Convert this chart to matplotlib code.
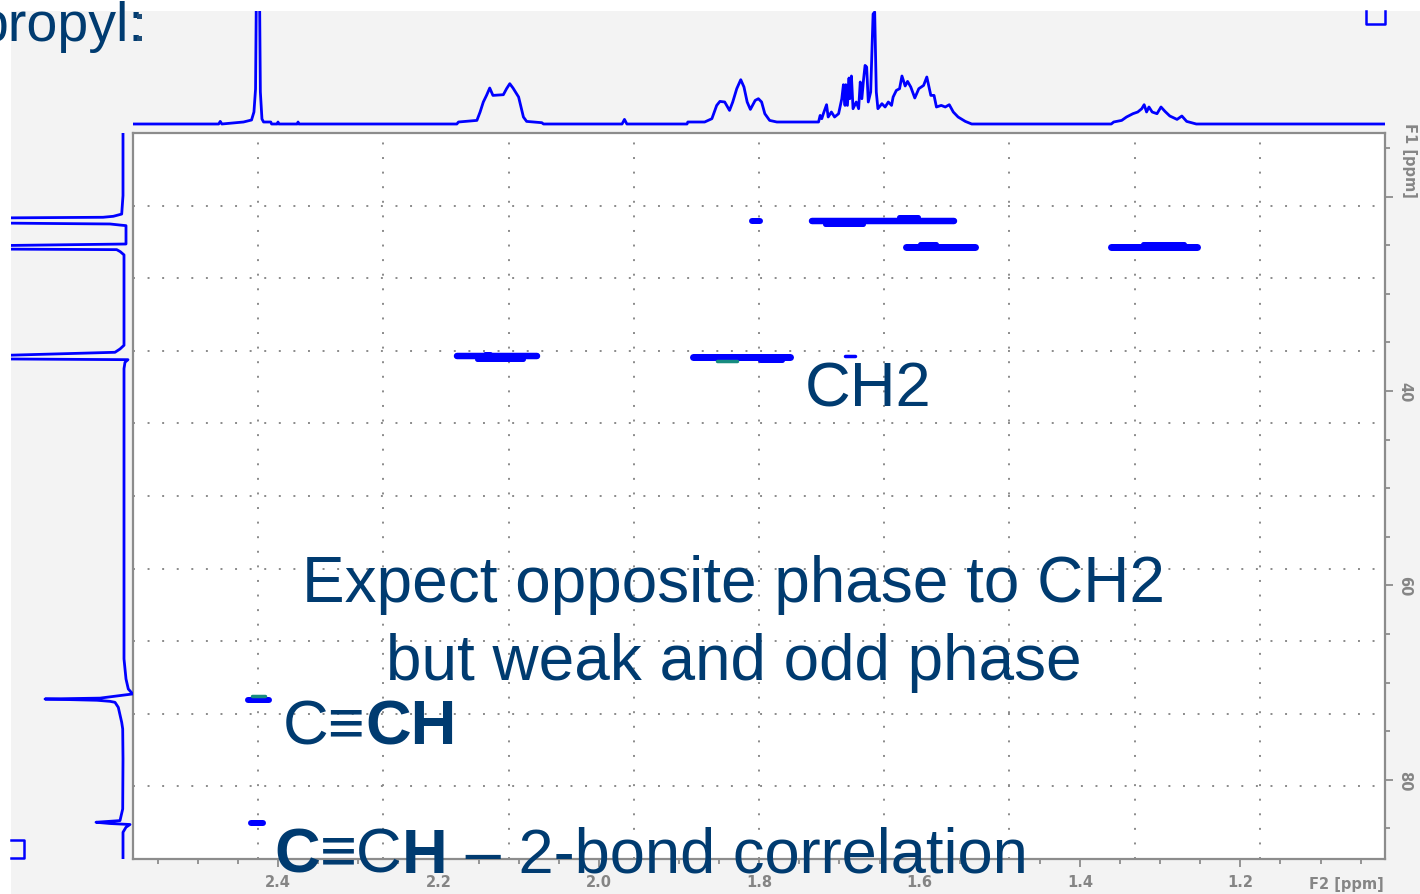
import matplotlib
matplotlib.use("Agg")
import matplotlib.pyplot as plt
import matplotlib.transforms as mtransforms
from matplotlib.lines import Line2D
from matplotlib.patches import Rectangle
from matplotlib.ticker import FixedLocator, MultipleLocator

# 1H projection (F2, top): chemical shift [ppm] and relative intensity
h_ppm = [2.580, 2.474, 2.472, 2.470, 2.443, 2.433, 2.430, 2.428, 2.427, 2.423,
         2.422, 2.420, 2.418, 2.409, 2.408, 2.401, 2.400, 2.399, 2.376, 2.375,
         2.374, 2.177, 2.175, 2.152, 2.148, 2.144, 2.140, 2.136, 2.132, 2.119,
         2.115, 2.111, 2.107, 2.100, 2.094, 2.090, 2.071, 2.069, 1.971, 1.968,
         1.965, 1.890, 1.889, 1.868, 1.859, 1.853, 1.849, 1.843, 1.837, 1.833,
         1.828, 1.823, 1.819, 1.815, 1.811, 1.805, 1.801, 1.797, 1.793, 1.787,
         1.778, 1.726, 1.724, 1.722, 1.720, 1.716, 1.714, 1.710, 1.706, 1.701,
         1.697, 1.695, 1.693, 1.692, 1.690, 1.688, 1.687, 1.685, 1.683, 1.679,
         1.676, 1.674, 1.672, 1.670, 1.668, 1.666, 1.664, 1.661, 1.658, 1.656,
         1.654, 1.652, 1.647, 1.643, 1.639, 1.635, 1.633, 1.629, 1.625, 1.622,
         1.618, 1.615, 1.611, 1.606, 1.601, 1.595, 1.591, 1.586, 1.582, 1.579,
         1.573, 1.568, 1.563, 1.558, 1.552, 1.543, 1.535, 1.361, 1.358, 1.348,
         1.342, 1.334, 1.328, 1.323, 1.320, 1.317, 1.314, 1.310, 1.304, 1.299,
         1.294, 1.288, 1.279, 1.273, 1.267, 1.255, 1.020]
h_int = [0, 0, 2.6, 0, 2, 4, 12, 35, 130, 130,
         32, 5, 2, 2, 0, 0, 2, 0, 0, 2,
         0, 0, 2, 3.6, 12, 22, 28.6, 36, 28.6, 29.3,
         35.3, 40.3, 36, 27, 7, 2.6, 1.3, 0, 0, 4.6,
         0, 0, 2, 2, 5.3, 18.6, 22.6, 22, 13.6, 22,
         35.3, 44.3, 37, 22, 14.6, 23.6, 25.3, 22, 10.3, 3.6,
         2, 2, 8.6, 5.3, 10.3, 19.3, 7, 12, 7, 10.3,
         25.3, 39.3, 18.6, 39.3, 18.6, 46, 25.3, 48, 15.3, 22,
         15.3, 42, 25.3, 43.6, 58.6, 57, 22, 32, 110, 112,
         32, 15.3, 20.3, 17, 22, 18.6, 27, 33.6, 35.3, 48,
         38, 42.6, 37, 26, 35.3, 38.6, 47, 28.6, 28.6, 17,
         18.6, 17, 19.3, 12, 7, 2.6, 0, 0, 2, 3.6,
         7, 10.3, 12, 15.3, 19.3, 12, 17, 12, 10.3, 17,
         12.6, 8, 4.6, 8, 2.6, 0, 0]

# 13C projection (F1, left): chemical shift [ppm] and relative intensity
c_ppm = [13.5, 19.9, 21.8, 22.03, 22.13, 22.20, 22.72, 22.82, 22.93, 22.99,
         24.88, 25.05, 25.40, 25.46, 25.67, 26.0, 35.3, 35.68, 36.02, 36.30,
         36.37, 36.70, 36.78, 37.05, 37.7, 67.57, 69.63, 70.66, 71.17, 71.60,
         71.69, 71.82, 71.93, 72.03, 72.55, 74.09, 74.77, 77.86, 83.0, 84.2,
         84.37, 84.50, 84.60, 84.88, 85.4, 88.2]
c_int = [0, 0, 1.3, 9.7, 20, 130, 130, 13, 3, -3,
         -3, 130, 130, 6.3, 2.7, -1, -1, 3, 8, 106,
         130, 130, -5, -2, -1, -1, -3, -5.3, -9.7, 23,
         78, 26, 13, 8, 4.7, 1.3, 0.3, 0, 0.3, 3,
         27, 13, -7, -3, 0, 0]

# 2D cross peaks: F2 start, F2 end, F1 [ppm], drawn thickness [px]
pk_f2_a = [1.809, 1.734, 1.626, 1.718, 1.617, 1.600, 1.361, 1.322,
           2.177, 2.152, 2.142, 1.882, 1.799, 1.693, 2.437, 2.434]
pk_f2_b = [1.799, 1.557, 1.602, 1.671, 1.531, 1.579, 1.254, 1.270,
           2.077, 2.095, 2.136, 1.762, 1.772, 1.681, 2.411, 2.419]
pk_f1 = [22.5, 22.5, 22.15, 22.85, 25.2, 24.85, 25.2, 24.85,
         36.45, 36.75, 36.15, 36.5, 36.85, 36.45, 71.8, 84.4]
pk_px = [6, 6.5, 5, 5, 7, 5, 7, 5, 6.5, 5, 5, 7, 5, 3.5, 6, 6]

# weaker, opposite-level contours
neg_f2_a = [1.853, 2.433]
neg_f2_b = [1.828, 2.416]
neg_f1 = [36.9, 71.35]

f2_ticks = [2.4, 2.2, 2.0, 1.8, 1.6, 1.4, 1.2]
f2_labels = ["2.4", "2.2", "2.0", "1.8", "1.6", "1.4", "1.2"]
f1_ticks = [20, 40, 60, 80]
f1_labels = ["", "40", "60", "80"]

F2_LIM = (2.5808, 1.0197)
F1_LIM = (88.15, 13.46)

W, H = 1420, 895
SPEC = "#0000ff"
TEAL = "#178c80"
AXC = "#8c8c8c"
LBL = "#858585"
TXT = "#003b70"
FAM = ["Liberation Sans", "DejaVu Sans"]
NARROW = ["Liberation Sans Narrow", "DejaVu Sans"]

fig = plt.figure(figsize=(W / 100, H / 100), dpi=100, facecolor="white")
# pixel coordinates, origin top-left
px = mtransforms.Affine2D().scale(1 / W, -1 / H).translate(0, 1) + fig.transFigure


def box(x0, y0, x1, y1):
    return [x0 / W, 1 - y1 / H, (x1 - x0) / W, (y1 - y0) / H]


fig.add_artist(Rectangle((11, 12), W - 11, H - 12, transform=px,
                         facecolor="#f3f3f3", edgecolor="none", zorder=-5))

ax = fig.add_axes(box(133, 134, 1385, 860), facecolor="white")
ax_top = fig.add_axes(box(133, 12, 1385, 134))
ax_left = fig.add_axes(box(11, 134, 133, 860))

# dotted grid
for f in [0.1, 0.2, 0.3, 0.4, 0.5, 0.6, 0.7, 0.8, 0.9]:
    ax.plot([f, f], [0, 1], transform=ax.transAxes, color="#8a8a8a",
            lw=1.4, ls=(0, (1, 6.5)), zorder=1)
    ax.plot([0, 1], [f, f], transform=ax.transAxes, color="#8a8a8a",
            lw=1.4, ls=(0, (1, 6.5)), zorder=1)

for a, b, f1, w in zip(pk_f2_a, pk_f2_b, pk_f1, pk_px):
    ax.plot([a, b], [f1, f1], color=SPEC, lw=w / 1.389,
            solid_capstyle="round", zorder=3)
for a, b, f1 in zip(neg_f2_a, neg_f2_b, neg_f1):
    ax.plot([a, b], [f1, f1], color=TEAL, lw=3.5 / 1.389,
            solid_capstyle="round", zorder=4)

ax.set_xlim(*F2_LIM)
ax.set_ylim(*F1_LIM)
ax.xaxis.set_major_locator(FixedLocator(f2_ticks))
ax.xaxis.set_minor_locator(MultipleLocator(0.05))
ax.set_xticklabels(f2_labels)
ax.yaxis.tick_right()
ax.yaxis.set_major_locator(FixedLocator(f1_ticks))
ax.yaxis.set_minor_locator(MultipleLocator(5))
ax.set_yticklabels(f1_labels)
ax.tick_params(which="major", direction="out", length=6, width=1.3,
               color=AXC, labelcolor=LBL, labelsize=10.5)
ax.tick_params(which="minor", direction="out", length=3.5, width=1.3, color=AXC)
ax.tick_params(axis="x", which="major", pad=5)
ax.tick_params(axis="y", which="major", pad=3)
for lab in ax.get_xticklabels() + ax.get_yticklabels():
    lab.set_family(NARROW)
    lab.set_fontweight("bold")
for lab in ax.get_yticklabels():
    lab.set_rotation(-90)
    lab.set_va("center")
for sp in ax.spines.values():
    sp.set_color(AXC)
    sp.set_linewidth(1.6)

# projections
ax_top.plot(h_ppm, h_int, color=SPEC, lw=2.0)
ax_top.set_xlim(*F2_LIM)
ax_top.set_ylim(-9, 113)
ax_top.axis("off")

ax_left.plot(c_int, c_ppm, color=SPEC, lw=2.0)
ax_left.set_xlim(112, -10)
ax_left.set_ylim(*F1_LIM)
ax_left.axis("off")

# projection markers
fig.add_artist(Line2D([1366, 1366, 1385, 1385], [12, 24.5, 24.5, 12],
                      transform=px, color=SPEC, lw=1.8, zorder=6))
fig.add_artist(Line2D([11, 23.5, 23.5, 11], [841, 841, 859.5, 859.5],
                      transform=px, color=SPEC, lw=1.8, zorder=6))

# axis unit labels
fig.text(1346, 885, "F2 [ppm]", transform=px, ha="center", va="center",
         fontsize=10.5, fontweight="bold", color=LBL, family=NARROW)
fig.text(1410, 160, "F1 [ppm]", transform=px, ha="center", va="center",
         rotation=-90, fontsize=10.5, fontweight="bold", color=LBL, family=NARROW)

# slide annotations
for y in [14.5, 37]:
    fig.add_artist(Rectangle((137, y), 5, 5, transform=px, facecolor="#1f4e79",
                             edgecolor="none", zorder=6))
fig.text(-23, 41, "propyl:", transform=px, fontsize=40, color=TXT,
         family=FAM, va="baseline")
fig.text(805, 407, "CH2", transform=px, fontsize=45.5, color=TXT,
         family=FAM, va="baseline")
fig.text(733, 602, "Expect opposite phase to CH2", transform=px, fontsize=46,
         color=TXT, family=FAM, va="baseline", ha="center")
fig.text(734, 680, "but weak and odd phase", transform=px, fontsize=46,
         color=TXT, family=FAM, va="baseline", ha="center")

renderer = fig.canvas.get_renderer()


def rich_text(x, y, parts, size=45.5):
    for s, weight in parts:
        t = fig.text(x, y, s, transform=px, fontsize=size, fontweight=weight,
                     color=TXT, family=FAM, va="baseline")
        x += t.get_window_extent(renderer).width


rich_text(283, 745, [("C\u2261", "normal"), ("CH", "bold")])
rich_text(274, 873, [("C", "bold"), ("\u2261C", "normal"), ("H", "bold"),
                     (" \u2013 2-bond correlation", "normal")], size=45.5)

fig.savefig("out.png", dpi=100, facecolor=fig.get_facecolor())
